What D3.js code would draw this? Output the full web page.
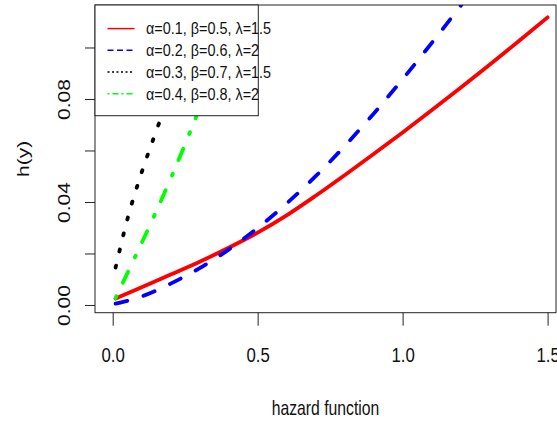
<!DOCTYPE html>
<html>
<head>
<meta charset="utf-8">
<script src="https://cdn.jsdelivr.net/npm/d3@7"></script>
<style>
  body { margin: 0; background: #fff; }
  svg { display: block; font-family: Arial, "Liberation Sans", sans-serif; }
</style>
</head>
<body>
<svg id="chart" width="557" height="423"></svg>
<script>
// values
const redX   = [0.01, 0.1, 0.2, 0.3, 0.4, 0.5, 0.6, 0.7, 0.8, 0.9, 1.0, 1.1, 1.2, 1.3, 1.4, 1.5];
const redY   = [0.0025, 0.0069, 0.0118, 0.0168, 0.0222, 0.0281, 0.0348, 0.0424, 0.0504, 0.0586, 0.067, 0.0756, 0.0844, 0.0933, 0.1024, 0.1117];
const blueX  = [0.01, 0.1, 0.2, 0.3, 0.4, 0.5, 0.6, 0.7, 0.8, 0.9, 1.0, 1.1, 1.2, 1.25];
const blueY  = [0.0005, 0.0033, 0.0083, 0.0143, 0.0215, 0.0299, 0.0394, 0.05, 0.0617, 0.0743, 0.0877, 0.1017, 0.1162, 0.1237];
const blackX = [0.01, 0.05, 0.1, 0.15, 0.2, 0.25, 0.3, 0.35];
const blackY = [0.0145, 0.033, 0.0515, 0.0675, 0.083, 0.098, 0.113, 0.128];
const greenX = [0.01, 0.05, 0.1, 0.15, 0.2, 0.25, 0.3, 0.35, 0.4, 0.45];
const greenY = [0.0027, 0.0122, 0.0241, 0.0363, 0.0491, 0.0625, 0.0766, 0.0914, 0.107, 0.123];

const legendLabels = ["α=0.1, β=0.5, λ=1.5", "α=0.2, β=0.6, λ=2", "α=0.3, β=0.7, λ=1.5", "α=0.4, β=0.8, λ=2"];
const xTicks = [0, 0.5, 1.0, 1.5];
const yTicks = [0, 0.02, 0.04, 0.06, 0.08, 0.10];
const yTickLabels = ["0.00", "", "0.04", "", "0.08", ""];

const series = [
  { xs: redX,   ys: redY,   color: "#ff0000", dash: null,              legDash: null },
  { xs: blueX,  ys: blueY,  color: "#0000ff", dash: "12,17",           legDash: "6,3.5" },
  { xs: blackX, ys: blackY, color: "#000000", dash: "2,14.5",          legDash: "2,2.5" },
  { xs: greenX, ys: greenY, color: "#00ff00", dash: "2,15,12,16",      legDash: "2,3,6,3" }
];

const plot = { left: 95, right: 556, top: 5, bottom: 312.7 };
const svg = d3.select("#chart");

const x = d3.scaleLinear().domain([-0.061, 1.529]).range([plot.left, plot.right]);
const y = d3.scaleLinear().domain([-0.003, 0.1165]).range([plot.bottom, plot.top]);

svg.append("clipPath").attr("id", "clip")
  .append("rect")
  .attr("x", plot.left).attr("y", plot.top)
  .attr("width", plot.right - plot.left).attr("height", plot.bottom - plot.top);

// curves
const line = d3.line().x(d => x(d[0])).y(d => y(d[1])).curve(d3.curveMonotoneX);
const lines = svg.append("g").attr("clip-path", "url(#clip)");
series.forEach(s => {
  lines.append("path")
    .datum(s.xs.map((v, i) => [v, s.ys[i]]))
    .attr("d", line)
    .attr("fill", "none")
    .attr("stroke", s.color)
    .attr("stroke-width", 3.8)
    .attr("stroke-linecap", "round")
    .attr("stroke-dasharray", s.dash);
});

// axes
const xAxis = svg.append("g")
  .attr("transform", `translate(0,${plot.bottom})`)
  .call(d3.axisBottom(x).tickValues(xTicks).tickFormat(d3.format(".1f")).tickSize(13).tickSizeOuter(0));
xAxis.select(".domain").remove();
xAxis.selectAll("line").attr("stroke", "#222");
xAxis.selectAll("text")
  .attr("y", null).attr("dy", null)
  .attr("transform", "translate(0,49) scale(0.8,1)")
  .attr("font-size", 21).attr("font-family", "Arial, 'Liberation Sans', sans-serif")
  .attr("fill", "#111");

const yAxis = svg.append("g")
  .attr("transform", `translate(${plot.left},0)`)
  .call(d3.axisLeft(y).tickValues(yTicks).tickFormat((d, i) => yTickLabels[i]).tickSize(10).tickSizeOuter(0));
yAxis.select(".domain").remove();
yAxis.selectAll("line").attr("stroke", "#222");
yAxis.selectAll("text")
  .attr("x", null).attr("dy", null)
  .attr("text-anchor", "middle")
  .attr("transform", "translate(-25,0) scale(0.8,1) rotate(-90)")
  .attr("font-size", 21).attr("font-family", "Arial, 'Liberation Sans', sans-serif")
  .attr("fill", "#111");

// plot frame
svg.append("rect")
  .attr("x", plot.left).attr("y", plot.top)
  .attr("width", plot.right - plot.left).attr("height", plot.bottom - plot.top)
  .attr("fill", "none").attr("stroke", "#222");

// axis titles
svg.append("text")
  .attr("transform", `translate(${(plot.left + plot.right) / 2},415) scale(0.75,1)`)
  .attr("text-anchor", "middle").attr("font-size", 21).attr("fill", "#111")
  .text("hazard function");
svg.append("text")
  .attr("transform", `translate(28.5,${(plot.top + plot.bottom) / 2}) scale(0.8,1) rotate(-90)`)
  .attr("text-anchor", "middle").attr("font-size", 21).attr("fill", "#111")
  .text("h(y)");

// legend
const legend = svg.append("g");
legend.append("rect")
  .attr("x", plot.left).attr("y", plot.top)
  .attr("width", 163.3).attr("height", 110.7)
  .attr("fill", "#fff").attr("stroke", "#222");
series.forEach((s, i) => {
  const ly = 28.6 + i * 21.7;
  legend.append("line")
    .attr("x1", 107.5).attr("x2", 134.5).attr("y1", ly).attr("y2", ly)
    .attr("stroke", s.color).attr("stroke-width", 1.5)
    .attr("stroke-dasharray", s.legDash);
  legend.append("text")
    .attr("transform", `translate(146,${ly + 5.8}) scale(0.9,1)`)
    .attr("font-size", 16).attr("fill", "#111")
    .text(legendLabels[i]);
});
</script>
</body>
</html>
